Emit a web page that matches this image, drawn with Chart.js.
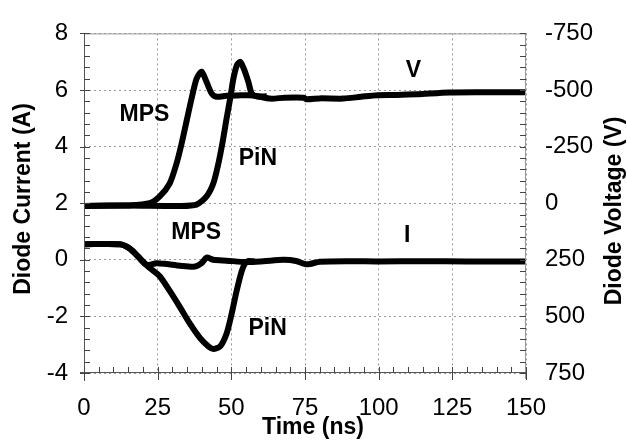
<!DOCTYPE html>
<html lang="en">
  <head>
    <meta charset="UTF-8" />
    <title>Diode reverse recovery</title>
    <style>
      body { margin: 0; background: #fff; }
      #wrap { width: 627px; height: 443px; }
    </style>
  </head>
  <body>
    <script src="https://cdn.jsdelivr.net/npm/chart.js"></script>
    <div id="wrap"><canvas id="myChart"></canvas></div>
    <script>
      // voltage traces (V, right axis, reversed)
      const tVmps = [0, 8, 15, 22.3, 25.7, 29.1, 31.4, 33.1, 34.8, 36.5, 38.2, 39.9, 41.6, 43.3, 45, 48.4, 52, 57.5, 63.2, 68, 74.5, 75.6, 80, 88, 94, 99.5, 106, 113, 124, 135, 150];
      const vMps = [12, 10, 10, 0, -30, -88, -175, -262, -362, -462, -550, -581, -535, -485, -470, -475, -476, -476, -462, -466, -466, -459, -463, -462, -470, -477, -478, -481, -489, -490, -490];
      const tVpin = [0, 15, 32.6, 38.2, 41.6, 43.9, 45.6, 47.1, 48.4, 49.6, 50.7, 51.8, 53, 54.3, 55.8, 56.9, 58.5, 62];
      const vPin = [12, 10, 12, 6, -30, -88, -175, -275, -375, -462, -550, -607, -625, -592, -535, -485, -472, -472];

      // current traces (A, left axis)
      const tImps = [0, 12.1, 15.5, 18.4, 21.2, 24.6, 28, 32.6, 37.7, 39.9, 41.6, 43.9, 48.4, 55.2, 60.9, 67.6, 72, 75.6, 80, 90, 100, 115, 130, 150];
      const iMps = [0.55, 0.55, 0.4, 0.11, -0.18, -0.12, -0.15, -0.21, -0.24, -0.12, 0.08, 0.0, -0.03, -0.08, -0.05, 0.0, -0.04, -0.16, -0.07, -0.05, -0.06, -0.05, -0.06, -0.06];
      const tIpin = [0, 12.1, 15.5, 18.4, 21.2, 22.3, 25.7, 29.1, 32.6, 35.9, 39.4, 42.2, 43.9, 46.2, 48.4, 50.1, 51.8, 53.5, 54.7, 55.8, 58];
      const iPin = [0.55, 0.55, 0.4, 0.11, -0.18, -0.29, -0.58, -1.1, -1.68, -2.25, -2.77, -3.06, -3.15, -3.06, -2.6, -1.91, -1.1, -0.41, -0.12, -0.04, -0.06];

      // curve labels: [text, time, current]
      const labels = [
        ["MPS", 20.5, 5.13],
        ["PiN", 59, 3.57],
        ["V", 111.8, 6.69],
        ["MPS", 38.1, 0.96],
        ["PiN", 62.3, -2.45],
        ["I", 109.7, 0.87],
      ];

      const pts = (ts, vs) => ts.map((t, i) => ({ x: t, y: vs[i] }));
      const FONT = "'Liberation Sans', Arial, sans-serif";
      Chart.defaults.font.family = FONT;
      Chart.defaults.color = "#000";

      const line = (data, axis) => ({
        data: data,
        yAxisID: axis,
        borderColor: "#000",
        borderWidth: 6,
        pointRadius: 0,
        tension: 0.25,
        fill: false,
      });

      const extras = {
        id: "extras",
        afterDraw(chart) {
          const { ctx, chartArea: a, scales } = chart;
          const x = scales.x, y = scales.y, y2 = scales.y2;
          ctx.save();
          // frame
          ctx.lineWidth = 1;
          ctx.strokeStyle = "#999";
          ctx.beginPath();
          ctx.moveTo(a.left, a.top + 0.5); ctx.lineTo(a.right, a.top + 0.5);
          ctx.moveTo(a.right - 0.5, a.top); ctx.lineTo(a.right - 0.5, a.bottom + 6);
          ctx.stroke();
          ctx.strokeStyle = "#555";
          ctx.beginPath();
          ctx.moveTo(a.left + 0.5, a.top); ctx.lineTo(a.left + 0.5, a.bottom + 8);
          ctx.moveTo(a.left - 4, a.bottom - 0.5); ctx.lineTo(a.right, a.bottom - 0.5);
          ctx.stroke();
          // minor ticks
          ctx.strokeStyle = "#444";
          ctx.beginPath();
          for (let t = 0; t <= 150; t += 5) {
            const px = Math.round(x.getPixelForValue(t)) + 0.5;
            ctx.moveTo(px, a.bottom); ctx.lineTo(px, a.bottom - 6);
            if (t % 25 === 0) { ctx.moveTo(px, a.bottom); ctx.lineTo(px, a.bottom + 7); }
          }
          for (let k = 0; k <= 30; k++) {
            const py = Math.round(y.getPixelForValue(-4 + k * 0.4)) + 0.5;
            ctx.moveTo(a.left, py); ctx.lineTo(a.left + 6, py);
            if (k % 5 === 0) { ctx.moveTo(a.left, py); ctx.lineTo(a.left - 4, py); }
          }
          for (let v = -750; v <= 750; v += 50) {
            const py = Math.round(y2.getPixelForValue(v)) + 0.5;
            ctx.moveTo(a.right, py); ctx.lineTo(a.right - 6, py);
          }
          ctx.stroke();
          // curve labels
          ctx.fillStyle = "#000";
          ctx.font = "bold 23px " + FONT;
          ctx.textAlign = "center";
          ctx.textBaseline = "middle";
          labels.forEach(([s, t, c]) => {
            ctx.fillText(s, x.getPixelForValue(t), y.getPixelForValue(c));
          });
          // axis titles
          ctx.fillText("Time (ns)", 313, 428);
          ctx.translate(24, 199);
          ctx.rotate(-Math.PI / 2);
          ctx.fillText("Diode Current (A)", 0, 0);
          ctx.setTransform(1, 0, 0, 1, 0, 0);
          ctx.translate(615, 211);
          ctx.rotate(-Math.PI / 2);
          ctx.fillText("Diode Voltage (V)", 0, 0);
          ctx.restore();
        },
      };

      new Chart("myChart", {
        type: "line",
        data: {
          datasets: [
            line(pts(tVmps, vMps), "y2"),
            line(pts(tVpin, vPin), "y2"),
            line(pts(tImps, iMps), "y"),
            line(pts(tIpin, iPin), "y"),
          ],
        },
        options: {
          responsive: true,
          maintainAspectRatio: false,
          animation: false,
          layout: { padding: { top: 27, left: 0, right: 0, bottom: 0 } },
          plugins: { legend: { display: false }, tooltip: { enabled: false } },
          scales: {
            x: {
              type: "linear",
              min: 0,
              max: 150,
              afterFit: (s) => { s.height = 70; },
              ticks: { stepSize: 25, padding: 21, font: { size: 24 }, maxRotation: 0 },
              grid: { color: "#999", drawTicks: false },
              border: { display: false, dash: [2, 3] },
            },
            y: {
              position: "left",
              min: -4,
              max: 8,
              afterFit: (s) => { s.width = 84; },
              ticks: { stepSize: 2, padding: 16, font: { size: 24 } },
              grid: { color: "#999", drawTicks: false },
              border: { display: false, dash: [2, 3] },
            },
            y2: {
              position: "right",
              min: -750,
              max: 750,
              reverse: true,
              afterFit: (s) => { s.width = 101; },
              ticks: { stepSize: 250, padding: 19, font: { size: 24 } },
              grid: { display: false, drawTicks: false },
              border: { display: false },
            },
          },
        },
        plugins: [extras],
      });
    </script>
  </body>
</html>
